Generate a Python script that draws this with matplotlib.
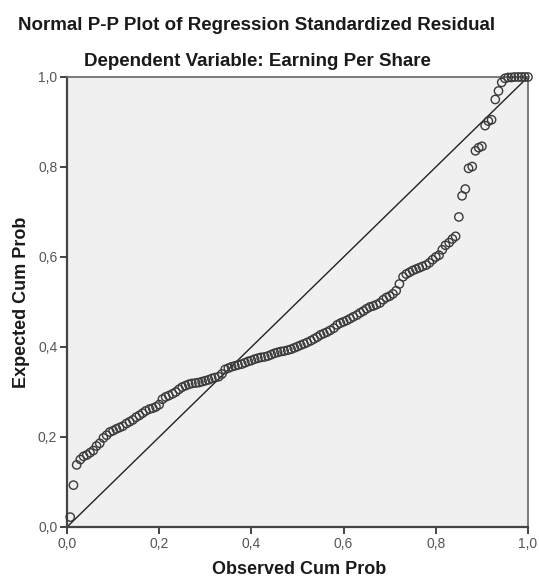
import matplotlib
matplotlib.use("Agg")
import matplotlib.pyplot as plt
from matplotlib.ticker import FuncFormatter

plt.rcParams['font.family'] = ['Liberation Sans', 'DejaVu Sans']

title = "Normal P-P Plot of Regression Standardized Residual"
subtitle = "Dependent Variable: Earning Per Share"
x_label = "Observed Cum Prob"
y_label = "Expected Cum Prob"
tick_values = [0.0, 0.2, 0.4, 0.6, 0.8, 1.0]

observed = [
    0.007, 0.014, 0.021, 0.029, 0.036, 0.043, 0.050, 0.057, 0.064, 0.071,
    0.079, 0.086, 0.093, 0.100, 0.107, 0.114, 0.121, 0.129, 0.136, 0.143,
    0.150, 0.157, 0.164, 0.171, 0.179, 0.186, 0.193, 0.200, 0.207, 0.214,
    0.221, 0.229, 0.236, 0.243, 0.250, 0.257, 0.264, 0.271, 0.279, 0.286,
    0.293, 0.300, 0.307, 0.314, 0.321, 0.329, 0.336, 0.343, 0.350, 0.357,
    0.364, 0.371, 0.379, 0.386, 0.393, 0.400, 0.407, 0.414, 0.421, 0.429,
    0.436, 0.443, 0.450, 0.457, 0.464, 0.471, 0.479, 0.486, 0.493, 0.500,
    0.507, 0.514, 0.521, 0.529, 0.536, 0.543, 0.550, 0.557, 0.564, 0.571,
    0.579, 0.586, 0.593, 0.600, 0.607, 0.614, 0.621, 0.629, 0.636, 0.643,
    0.650, 0.657, 0.664, 0.671, 0.679, 0.686, 0.693, 0.700, 0.707, 0.714,
    0.721, 0.729, 0.736, 0.743, 0.750, 0.757, 0.764, 0.771, 0.779, 0.786,
    0.793, 0.800, 0.807, 0.814, 0.821, 0.829, 0.836, 0.843, 0.850, 0.857,
    0.864, 0.871, 0.879, 0.886, 0.893, 0.900, 0.907, 0.914, 0.921, 0.929,
    0.936, 0.943, 0.950, 0.957, 0.964, 0.971, 0.979, 0.986, 0.993, 1.000,
]

expected = [
    0.022, 0.093, 0.138, 0.150, 0.157, 0.160, 0.165, 0.170, 0.180, 0.186,
    0.198, 0.204, 0.211, 0.214, 0.218, 0.221, 0.224, 0.230, 0.234, 0.238,
    0.244, 0.248, 0.253, 0.258, 0.262, 0.264, 0.267, 0.272, 0.284, 0.289,
    0.292, 0.296, 0.300, 0.306, 0.311, 0.314, 0.317, 0.319, 0.320, 0.321,
    0.323, 0.325, 0.327, 0.330, 0.332, 0.334, 0.340, 0.350, 0.353, 0.356,
    0.358, 0.360, 0.362, 0.365, 0.368, 0.370, 0.373, 0.375, 0.377, 0.378,
    0.380, 0.383, 0.386, 0.388, 0.390, 0.391, 0.393, 0.395, 0.398, 0.401,
    0.404, 0.407, 0.410, 0.414, 0.418, 0.422, 0.427, 0.430, 0.433, 0.437,
    0.442, 0.449, 0.453, 0.456, 0.459, 0.463, 0.467, 0.471, 0.476, 0.480,
    0.485, 0.489, 0.491, 0.494, 0.498, 0.505, 0.510, 0.513, 0.518, 0.525,
    0.540, 0.556, 0.562, 0.566, 0.570, 0.573, 0.576, 0.579, 0.582, 0.587,
    0.594, 0.600, 0.604, 0.616, 0.626, 0.632, 0.640, 0.646, 0.689, 0.736,
    0.751, 0.797, 0.801, 0.836, 0.843, 0.846, 0.892, 0.902, 0.905, 0.950,
    0.969, 0.988, 0.997, 0.999, 0.999, 1.000, 1.000, 1.000, 1.000, 1.000,
]

W, H = 539, 579
fig = plt.figure(figsize=(W / 100, H / 100), dpi=100)
fig.patch.set_facecolor('white')
left, right, top, bottom = 67, 528, 77, 527
ax = fig.add_axes([left / W, 1 - bottom / H, (right - left) / W, (bottom - top) / H])
ax.set_facecolor('#f0f0f0')

ax.plot([0, 1], [0, 1], color='#222222', linewidth=1.0, zorder=2)
ax.scatter(observed, expected, s=36, facecolors='none', edgecolors='#3a3a3a',
           linewidths=1.0, zorder=3, clip_on=False)

ax.set_xlim(0, 1)
ax.set_ylim(0, 1)
ax.set_xticks(tick_values)
ax.set_yticks(tick_values)
fmt = FuncFormatter(lambda v, p: f"{v:.1f}".replace('.', ','))
ax.xaxis.set_major_formatter(fmt)
ax.yaxis.set_major_formatter(fmt)
for s in ['left', 'bottom']:
    ax.spines[s].set_color('#444444')
    ax.spines[s].set_linewidth(1.6)
for s in ['right', 'top']:
    ax.spines[s].set_color('#666666')
    ax.spines[s].set_linewidth(1.2)
ax.tick_params(axis='both', direction='out', length=5, width=1.4, color='#444444',
               labelsize=10, labelcolor='#555555', pad=2)
ax.tick_params(top=False, right=False)

fig.text(257 / W, 1 - 25 / H, title, ha='center', va='center', fontsize=13.5,
         fontweight='bold', color='#1a1a1a')
fig.text(257 / W, 1 - 61 / H, subtitle, ha='center', va='center', fontsize=13.5,
         fontweight='bold', color='#1a1a1a')
fig.text(299 / W, 1 - 570 / H, x_label, ha='center', va='center', fontsize=13,
         fontweight='bold', color='#1a1a1a')
fig.text(22 / W, 1 - 302 / H, y_label, ha='center', va='center', fontsize=13,
         fontweight='bold', color='#1a1a1a', rotation=90)

fig.savefig('out.png', dpi=100, facecolor='white')
